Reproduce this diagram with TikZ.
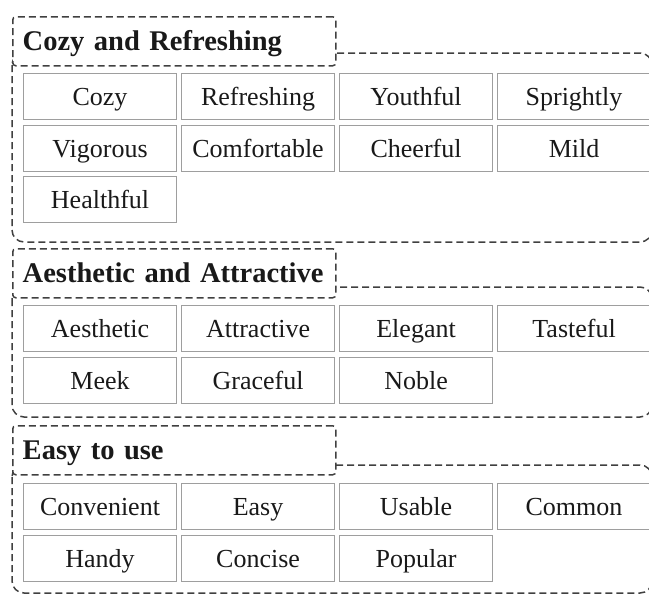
\documentclass[tikz,border=0pt]{standalone}
\usepackage{fontspec}
\setmainfont{Liberation Serif}
\definecolor{c1}{rgb}{0.25, 0.25, 0.25}
\definecolor{c2}{rgb}{0.62, 0.62, 0.62}
\definecolor{c3}{rgb}{0.10, 0.10, 0.10}
\tikzset{
  cell/.style={draw=c2, line width=1.1pt, anchor=north west, minimum width=153pt, minimum height=46pt, inner sep=0pt, text height=24pt, text depth=6pt, text=c3, font=\fontsize{26}{30}\selectfont},
  head/.style={draw=c1, fill=white, dash pattern=on 7pt off 4pt, line width=1.5pt, rounded corners=3pt, anchor=north west, text width=303pt, inner xsep=10pt, inner ysep=0pt, text height=34pt, text depth=15pt, text=c3, font=\fontsize{28.5}{32}\selectfont\bfseries},
  frame/.style={draw=c1, dash pattern=on 7pt off 4pt, line width=1.5pt, rounded corners=12pt},
}

\begin{document}
\begin{tikzpicture}[x=1pt, y=-1pt]
	\clip (0,0) rectangle (649,595);

	% group frames
	\draw[frame] (12,53) rectangle (652,242);
	\draw[frame] (12,287) rectangle (652,417);
	\draw[frame] (12,465) rectangle (652,593);

	% headers
	\node[head] (h1) at (12,16) {Cozy and Refreshing};
	\node[head] (h2) at (12,248) {Aesthetic and Attractive};
	\node[head] (h3) at (12,425) {Easy to use};

	% cozy and refreshing
	\node[cell] (cozy) at (23,73) {Cozy};
	\node[cell] (refreshing) at (181,73) {Refreshing};
	\node[cell] (youthful) at (339,73) {Youthful};
	\node[cell] (sprightly) at (497,73) {Sprightly};
	\node[cell] (vigorous) at (23,124.5) {Vigorous};
	\node[cell] (comfortable) at (181,124.5) {Comfortable};
	\node[cell] (cheerful) at (339,124.5) {Cheerful};
	\node[cell] (mild) at (497,124.5) {Mild};
	\node[cell] (healthful) at (23,176) {Healthful};

	% aesthetic and attractive
	\node[cell] (aesthetic) at (23,305) {Aesthetic};
	\node[cell] (attractive) at (181,305) {Attractive};
	\node[cell] (elegant) at (339,305) {Elegant};
	\node[cell] (tasteful) at (497,305) {Tasteful};
	\node[cell] (meek) at (23,356.5) {Meek};
	\node[cell] (graceful) at (181,356.5) {Graceful};
	\node[cell] (noble) at (339,356.5) {Noble};

	% easy to use
	\node[cell] (convenient) at (23,483) {Convenient};
	\node[cell] (easy) at (181,483) {Easy};
	\node[cell] (usable) at (339,483) {Usable};
	\node[cell] (common) at (497,483) {Common};
	\node[cell] (handy) at (23,535) {Handy};
	\node[cell] (concise) at (181,535) {Concise};
	\node[cell] (popular) at (339,535) {Popular};

\end{tikzpicture}
\end{document}
